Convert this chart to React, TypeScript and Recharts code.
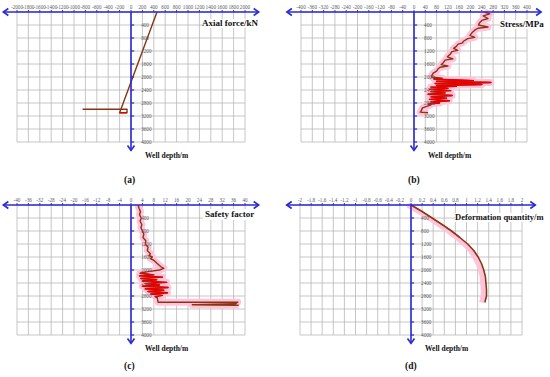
import { LineChart, Line, XAxis, YAxis, CartesianGrid, ReferenceLine } from "recharts";

const BLUE = "#2a2ad2";
const BROWN = "#8a3510";
const RED = "#e60000";
const GLOW = "#ffc4dc";
const GRID = "#b8b8b8";
const LABEL = "#5a5a5a";
const SERIF = "'Liberation Serif', 'DejaVu Serif', serif";

const depthTicks = [0, 400, 800, 1200, 1600, 2000, 2400, 2800, 3200, 3600, 4000];
const depthLabels = [400, 800, 1200, 1600, 2000, 2400, 2800, 3200, 3600, 4000];

const forceTicks = [-2000, -1800, -1600, -1400, -1200, -1000, -800, -600, -400, -200, 0, 200, 400, 600, 800, 1000, 1200, 1400, 1600, 1800, 2000];
const stressTicks = [-400, -360, -320, -280, -240, -200, -160, -120, -80, -40, 0, 40, 80, 120, 160, 200, 240, 280, 320, 360, 400];
const safetyTicks = [-40, -36, -32, -28, -24, -20, -16, -12, -8, -4, 0, 4, 8, 12, 16, 20, 24, 28, 32, 36, 40];
const deformTicks = [-2, -1.8, -1.6, -1.4, -1.2, -1, -0.8, -0.6, -0.4, -0.2, 0, 0.2, 0.4, 0.6, 0.8, 1, 1.2, 1.4, 1.6, 1.8, 2];

// (a) axial force, kN
const axialDepth = [0, 3100, 3100, 2990, 2990];
const axialForce = [456, -200, -70, -70, -850];

// (b) stress, MPa
const stressDepth = [0, 60, 120, 200, 260, 330, 400, 460, 500, 560, 640, 720, 780, 820, 900, 950, 990, 1060, 1120, 1180, 1220, 1300, 1380, 1440, 1480, 1560, 1620, 1660, 1700, 1760, 1820, 1880, 1940, 2000, 2040, 2060, 2110, 2130, 2170, 2200, 2230, 2260, 2290, 2310, 2350, 2380, 2420, 2450, 2490, 2530, 2570, 2610, 2650, 2690, 2730, 2770, 2800, 2830, 2860, 2950, 3050, 3080, 3100];
const stressMPa = [250, 268, 245, 262, 240, 232, 228, 262, 226, 215, 205, 198, 215, 190, 175, 172, 156, 150, 140, 155, 134, 128, 118, 138, 110, 104, 96, 120, 92, 84, 80, 68, 64, 62, 100, 70, 210, 80, 272, 75, 240, 80, 150, 60, 120, 55, 130, 60, 110, 50, 135, 60, 115, 55, 125, 60, 90, 50, 60, 30, 25, 22, 50];

// (c) safety factor
const safetyDepth = [0, 100, 200, 300, 400, 500, 600, 700, 800, 900, 1000, 1100, 1200, 1300, 1400, 1500, 1560, 1600, 1650, 1700, 1800, 1900, 1950, 2000, 2050, 2100, 2150, 2180, 2220, 2260, 2300, 2340, 2380, 2420, 2460, 2500, 2540, 2580, 2620, 2660, 2700, 2740, 2780, 2820, 2850, 2990, 2990, 3040, 3070, 3085];
const safetyFactor = [2.5, 2.8, 3.3, 3.0, 3.6, 3.2, 3.8, 3.5, 4.0, 4.5, 4.2, 5.2, 5.0, 6.0, 5.7, 6.8, 6.3, 7.5, 6.8, 8.0, 9.2, 10.5, 11.5, 10.0, 6.0, 3.2, 8.0, 3.0, 11.0, 3.5, 9.0, 4.0, 12.5, 5.0, 10.0, 4.0, 13.0, 5.0, 11.5, 6.0, 12.8, 7.0, 11.0, 8.5, 9.2, 9.5, 37.5, 36.5, 21.5, 37.8];

// (d) deformation quantity, m
const deformDepth = [0, 200, 400, 600, 800, 1000, 1200, 1400, 1600, 1800, 2000, 2200, 2400, 2600, 2800, 3000];
const deformM = [0, 0.2, 0.38, 0.56, 0.73, 0.88, 1.02, 1.13, 1.21, 1.27, 1.31, 1.34, 1.35, 1.36, 1.36, 1.33];

type Pt = { depth: number; v: number };
const zip = (d: number[], v: number[]): Pt[] => d.map((depth, i) => ({ depth, v: v[i] }));
const slice = (pts: Pt[], a: number, b: number) => pts.filter((p, i) => i >= a && i <= b);

const hAxis = (p: any) => {
  const { x1, y1, x2, y2 } = p;
  return (
    <g>
      <line x1={x1} y1={y1} x2={x2} y2={y2} stroke={BLUE} strokeWidth={1.6} />
      <path d={`M${x1 + 5},${y1 - 3.5}L${x1},${y1}L${x1 + 5},${y1 + 3.5}`} fill="none" stroke={BLUE} strokeWidth={1.6} />
      <path d={`M${x2 - 5},${y2 - 3.5}L${x2},${y2}L${x2 - 5},${y2 + 3.5}`} fill="none" stroke={BLUE} strokeWidth={1.6} />
    </g>
  );
};

const vAxis = (p: any) => {
  const { x1, y1, x2, y2 } = p;
  const down = y2 > y1 ? 1 : -1;
  return (
    <g>
      <line x1={x1} y1={y1} x2={x2} y2={y2} stroke={BLUE} strokeWidth={1.6} />
      <path d={`M${x2 - 3.5},${y2 - 5 * down}L${x2},${y2}L${x2 + 3.5},${y2 - 5 * down}`} fill="none" stroke={BLUE} strokeWidth={1.6} />
    </g>
  );
};

type Series = { data: Pt[]; color: string; width: number };

type PanelProps = {
  left: number;
  top: number;
  w: number;
  h: number;
  margin: { top: number; right: number; bottom: number; left: number };
  ticks: number[];
  ext: number;
  tickLen: number;
  series: Series[];
};

function Panel({ left, top, w, h, margin, ticks, ext, tickLen, series }: PanelProps) {
  const lo = ticks[0];
  const hi = ticks[ticks.length - 1];
  const minor = ticks.slice(1).map((t, i) => (t + ticks[i]) / 2).concat(ticks);
  return (
    <div style={{ position: "absolute", left, top }}>
      <LineChart layout="vertical" width={w} height={h} margin={margin}>
        <CartesianGrid stroke={GRID} strokeWidth={0.8} horizontal={false} />
        <XAxis
          type="number"
          orientation="top"
          domain={[lo, hi]}
          ticks={ticks}
          interval={0}
          height={10}
          axisLine={false}
          tickSize={2}
          tickMargin={1}
          tickLine={{ stroke: BLUE }}
          tick={{ fontSize: 5.2, fill: LABEL }}
        />
        <XAxis
          xAxisId="bot"
          type="number"
          orientation="bottom"
          domain={[lo, hi]}
          ticks={minor}
          interval={0}
          height={4}
          axisLine={false}
          tick={false}
          tickSize={2}
          tickLine={{ stroke: "#a8a8a8" }}
        />
        <YAxis
          type="number"
          dataKey="depth"
          domain={[0, 4000]}
          ticks={depthTicks}
          width={0}
          tick={false}
          axisLine={false}
          tickLine={false}
        />
        {depthTicks.map((d) => (
          <ReferenceLine key={"g" + d} y={d} stroke={GRID} strokeWidth={0.8} />
        ))}
        {series.map((s, i) => (
          <Line
            key={i}
            data={s.data}
            dataKey="v"
            stroke={s.color}
            strokeWidth={s.width}
            strokeLinejoin="round"
            dot={false}
            isAnimationActive={false}
          />
        ))}
        {depthLabels.map((d) => (
          <ReferenceLine
            key={d}
            segment={[{ x: 0, y: d }, { x: tickLen, y: d }]}
            stroke={BLUE}
            strokeWidth={1.2}
            ifOverflow="visible"
            label={{ value: d, position: "right", offset: 7, fontSize: 5.2, fill: LABEL }}
          />
        ))}
        <ReferenceLine segment={[{ x: 0, y: 0 }, { x: 0, y: 4260 }]} ifOverflow="visible" shape={vAxis} />
        <ReferenceLine segment={[{ x: -ext, y: 0 }, { x: ext, y: 0 }]} ifOverflow="visible" shape={hAxis} />
      </LineChart>
    </div>
  );
}

const txt = (left: number, top: number, s: string, size: number, extra: any = {}) => (
  <div
    style={{
      position: "absolute",
      left,
      top,
      fontFamily: SERIF,
      fontSize: size,
      fontWeight: "bold",
      lineHeight: 1,
      whiteSpace: "nowrap",
      background: "#fff",
      color: "#111",
      ...extra,
    }}
  >
    {s}
  </div>
);

export default function App() {
  const axial = zip(axialDepth, axialForce);
  const stress = zip(stressDepth, stressMPa);
  const safety = zip(safetyDepth, safetyFactor);
  const deform = zip(deformDepth, deformM);

  return (
    <div style={{ position: "absolute", left: 0, top: 0, width: 550, height: 377, background: "#fff", overflow: "hidden" }}>
      <Panel
        left={0}
        top={0}
        w={275}
        h={190}
        margin={{ top: 2, right: 30, bottom: 44, left: 17 }}
        ticks={forceTicks}
        ext={2240}
        tickLen={55}
        series={[
          { data: axial, color: BROWN, width: 1.4 },
          { data: slice(axial, 1, 2), color: RED, width: 1.4 },
        ]}
      />
      <Panel
        left={275}
        top={0}
        w={275}
        h={190}
        margin={{ top: 2, right: 23, bottom: 44, left: 26 }}
        ticks={stressTicks}
        ext={450}
        tickLen={11}
        series={[
          { data: stress, color: GLOW, width: 7 },
          { data: stress, color: BROWN, width: 1.4 },
          { data: slice(stress, 35, 57), color: RED, width: 1.4 },
        ]}
      />
      <Panel
        left={0}
        top={190}
        w={275}
        h={187}
        margin={{ top: 5, right: 30, bottom: 38, left: 17 }}
        ticks={safetyTicks}
        ext={44.8}
        tickLen={1.1}
        series={[
          { data: safety, color: GLOW, width: 7 },
          { data: safety, color: BROWN, width: 1.4 },
          { data: slice(safety, 25, 44), color: RED, width: 1.4 },
        ]}
      />
      <Panel
        left={275}
        top={190}
        w={275}
        h={187}
        margin={{ top: 5, right: 28, bottom: 38, left: 25 }}
        ticks={deformTicks}
        ext={2.24}
        tickLen={0.055}
        series={[
          { data: deform.map((p) => ({ depth: p.depth, v: p.v - 0.06 })), color: GLOW, width: 5 },
          { data: deform, color: BROWN, width: 1.6 },
        ]}
      />

      {txt(202, 19, "Axial force/kN", 9)}
      {txt(500, 20, "Stress/MPa", 9)}
      {txt(205, 209, "Safety factor", 9, { padding: "1px 2px", marginLeft: -2 })}
      {txt(455, 213, "Deformation quantity/m", 8.5)}

      {txt(145, 152, "Well depth/m", 7.5, { background: "transparent" })}
      {txt(428, 152, "Well depth/m", 7.5, { background: "transparent" })}
      {txt(145, 345, "Well depth/m", 7.5, { background: "transparent" })}
      {txt(425, 345, "Well depth/m", 7.5, { background: "transparent" })}

      {txt(124, 176, "(a)", 9.5, { background: "transparent" })}
      {txt(408, 176, "(b)", 9.5, { background: "transparent" })}
      {txt(124, 362, "(c)", 9.5, { background: "transparent" })}
      {txt(405, 362, "(d)", 9.5, { background: "transparent" })}
    </div>
  );
}
